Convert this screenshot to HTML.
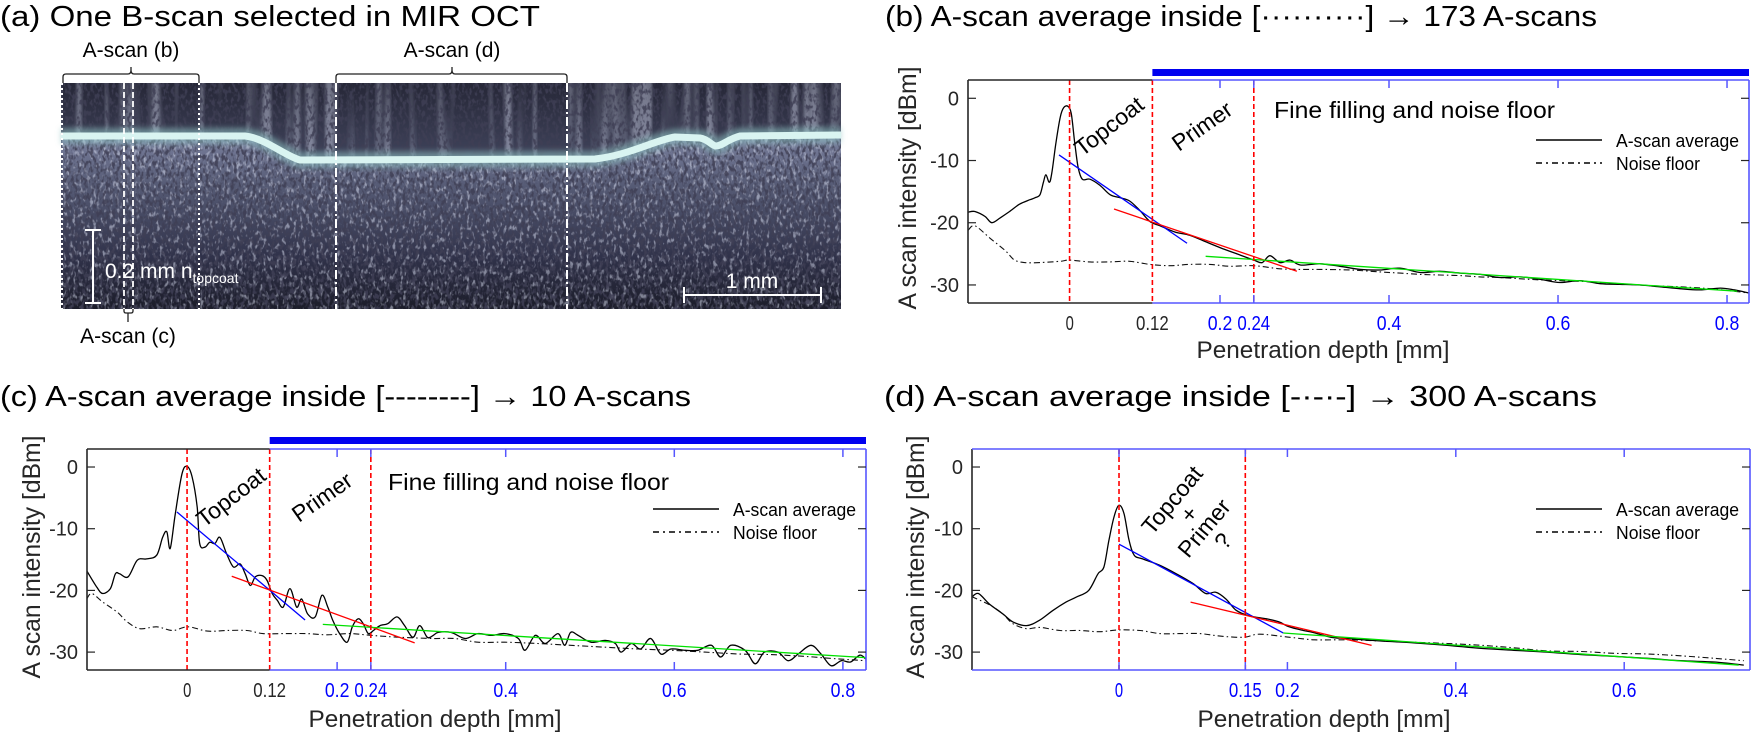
<!DOCTYPE html>
<html><head><meta charset="utf-8">
<style>
html,body{margin:0;padding:0;background:#fff;}
svg{display:block;font-family:"Liberation Sans",Arial,sans-serif;}
</style></head>
<body>
<svg id="fig" width="1752" height="734" viewBox="0 0 1752 734" xmlns="http://www.w3.org/2000/svg">
<defs>
  <linearGradient id="under" x1="0" y1="0" x2="0" y2="1">
    <stop offset="0" stop-color="#7a809e"/>
    <stop offset="0.3" stop-color="#555a74"/>
    <stop offset="0.7" stop-color="#30324a"/>
    <stop offset="1" stop-color="#1c1d2a"/>
  </linearGradient>
  <linearGradient id="above" x1="0" y1="0" x2="0" y2="1">
    <stop offset="0" stop-color="#262737"/>
    <stop offset="1" stop-color="#40445c"/>
  </linearGradient>
  <clipPath id="underClip">
    <path d="M61,136 L245,136 C265,138 285,156 300,160 L595,159 C630,155 655,140 675,137 L700,138 C708,139 712,146 716,146 C722,146 728,139 740,136 L841,135 L841,309 L61,309 Z"/>
  </clipPath>
  <clipPath id="aboveClip">
    <path d="M61,83 L841,83 L841,135 L740,136 C728,139 722,146 716,146 C712,146 708,139 700,138 L675,137 C655,140 630,155 595,159 L300,160 C285,156 265,138 245,136 L61,136 Z"/>
  </clipPath>
  <filter id="speckleDark" x="0" y="0" width="100%" height="100%">
    <feTurbulence type="fractalNoise" baseFrequency="0.32 0.18" numOctaves="2" seed="7"/>
    <feColorMatrix type="matrix" values="0 0 0 0 0.05  0 0 0 0 0.05  0 0 0 0 0.09  5 0 0 0 -2.3"/>
  </filter>
  <filter id="speckleLight" x="0" y="0" width="100%" height="100%">
    <feTurbulence type="fractalNoise" baseFrequency="0.3 0.16" numOctaves="2" seed="19"/>
    <feColorMatrix type="matrix" values="0 0 0 0 0.62  0 0 0 0 0.65  0 0 0 0 0.78  5 0 0 0 -2.6"/>
  </filter>
  <filter id="streaks" x="0" y="0" width="100%" height="100%">
    <feTurbulence type="fractalNoise" baseFrequency="0.12 0.004" numOctaves="1" seed="4"/>
    <feColorMatrix type="matrix" values="0 0 0 0 0.55  0 0 0 0 0.58  0 0 0 0 0.72  4 0 0 0 -1.9"/>
  </filter>
  <filter id="glow" x="-5%" y="-50%" width="110%" height="200%">
    <feGaussianBlur stdDeviation="3"/>
  </filter>
</defs>

<g>
  <text x="0" y="26" font-size="29" textLength="540" lengthAdjust="spacingAndGlyphs">(a) One B-scan selected in MIR OCT</text>
  <g>
    <rect x="61" y="83" width="780" height="226" fill="#191a25"/>
    <path d="M61,83 L841,83 L841,135 L740,136 C728,139 722,146 716,146 C712,146 708,139 700,138 L675,137 C655,140 630,155 595,159 L300,160 C285,156 265,138 245,136 L61,136 Z" fill="url(#above)"/>
    <path d="M61,136 L245,136 C265,138 285,156 300,160 L595,159 C630,155 655,140 675,137 L700,138 C708,139 712,146 716,146 C722,146 728,139 740,136 L841,135 L841,309 L61,309 Z" fill="url(#under)"/>
    <rect x="61" y="83" width="780" height="80" filter="url(#streaks)" opacity="0.5" clip-path="url(#aboveClip)"/>
    <rect x="61" y="130" width="780" height="179" filter="url(#speckleLight)" opacity="0.55" clip-path="url(#underClip)"/>
    <rect x="61" y="83" width="780" height="226" filter="url(#speckleDark)" opacity="0.85"/>
    <path d="M61,136 L245,136 C265,138 285,156 300,160 L595,159 C630,155 655,140 675,137 L700,138 C708,139 712,146 716,146 C722,146 728,139 740,136 L841,135" fill="none" stroke="#8fc4c4" stroke-width="16" opacity="0.55" filter="url(#glow)"/>
    <path d="M61,136 L245,136 C265,138 285,156 300,160 L595,159 C630,155 655,140 675,137 L700,138 C708,139 712,146 716,146 C722,146 728,139 740,136 L841,135" fill="none" stroke="#d9f4f1" stroke-width="7"/>
  </g>
  <line x1="62" y1="83" x2="62" y2="309" stroke="#fff" stroke-width="2" stroke-dasharray="2,3"/>
  <line x1="199" y1="83" x2="199" y2="309" stroke="#fff" stroke-width="2" stroke-dasharray="2,3"/>
  <line x1="124" y1="83" x2="124" y2="309" stroke="#fff" stroke-width="1.8" stroke-dasharray="6,3"/>
  <line x1="133" y1="83" x2="133" y2="309" stroke="#fff" stroke-width="1.8" stroke-dasharray="6,3"/>
  <line x1="336" y1="83" x2="336" y2="309" stroke="#fff" stroke-width="2" stroke-dasharray="9,3,2,3"/>
  <line x1="567" y1="83" x2="567" y2="309" stroke="#fff" stroke-width="2" stroke-dasharray="9,3,2,3"/>
  <path d="M63,83 L63,77 Q63,74 66,74 L128,74 Q131,74 131,70 L131,67 L131,70 Q131,74 134,74 L196,74 Q199,74 199,77 L199,83" fill="none" stroke="#222" stroke-width="1.3"/>
  <text x="131" y="57" font-size="21" text-anchor="middle">A-scan (b)</text>
  <path d="M336,83 L336,77 Q336,74 339,74 L449,74 Q452,74 452,70 L452,67 L452,70 Q452,74 455,74 L564,74 Q567,74 567,77 L567,83" fill="none" stroke="#222" stroke-width="1.3"/>
  <text x="452" y="57" font-size="21" text-anchor="middle">A-scan (d)</text>
  <path d="M124,309 L124,311 Q124,313 126,313 L128,313 L128,322 L128,313 L131,313 Q133,313 133,311 L133,309" fill="none" stroke="#222" stroke-width="1.3"/>
  <text x="128" y="343" font-size="21" text-anchor="middle">A-scan (c)</text>
  <g stroke="#fff" stroke-width="2">
    <line x1="93" y1="230" x2="93" y2="303"/><line x1="85" y1="230" x2="101" y2="230"/><line x1="85" y1="303" x2="101" y2="303"/>
  </g>
  <text x="105" y="278" font-size="21" fill="#fff">0.2 mm n<tspan font-size="14" dy="5">topcoat</tspan></text>
  <g stroke="#fff" stroke-width="2">
    <line x1="684" y1="295" x2="821" y2="295"/><line x1="684" y1="287" x2="684" y2="303"/><line x1="821" y1="287" x2="821" y2="303"/>
  </g>
  <text x="752" y="288" font-size="21" fill="#fff" text-anchor="middle">1 mm</text>
</g>

<text x="885" y="26" font-size="29" textLength="712" lengthAdjust="spacingAndGlyphs">(b) A-scan average inside [··········] → 173 A-scans</text>
<text x="0" y="406" font-size="29" textLength="691" lengthAdjust="spacingAndGlyphs">(c) A-scan average inside [--------] → 10 A-scans</text>
<text x="884" y="406" font-size="29" textLength="713" lengthAdjust="spacingAndGlyphs">(d) A-scan average inside [-·-·-] → 300 A-scans</text>
</svg>

<script>
// ---------- data (depth in mm, intensity in dBm) ----------
const yTicks = [0, -10, -20, -30];
const bcBlueTicks = [0.2, 0.24, 0.4, 0.6, 0.8];
const bcBlackTicks = [0, 0.12];
const dBlueTicks = [0, 0.15, 0.2, 0.4, 0.6];
const bcLayerDepths = [0.022, 0.12, 0.24];
const dLayerDepths = [0, 0.15];

const bDepth = [-0.098,-0.090,-0.078,-0.070,-0.060,-0.049,-0.037,-0.025,-0.019,-0.013,-0.009,-0.006,-0.002,0.001,0.006,0.011,0.015,0.020,0.024,0.028,0.032,0.037,0.046,0.058,0.070,0.082,0.093,0.105,0.117,0.129,0.147,0.164,0.182,0.200,0.224,0.240,0.250,0.259,0.271,0.283,0.295,0.318,0.342,0.366,0.389,0.413,0.437,0.460,0.484,0.508,0.531,0.555,0.579,0.602,0.626,0.650,0.673,0.697,0.721,0.744,0.768,0.792,0.809,0.826];
const bSignal = [-18.3,-18.2,-19,-20,-19.2,-18.2,-17.0,-16.3,-16,-15.5,-13.5,-12.3,-13.5,-12,-7,-3,-1.5,-1.3,-2.5,-7,-11,-13,-13,-14,-15.5,-16,-16.5,-18,-19.8,-20.5,-21.5,-22,-23,-24,-25.2,-26,-26.4,-25.3,-26.4,-26,-26.8,-26.6,-27.0,-27.5,-27.6,-27.3,-28,-27.8,-28.1,-28.3,-28.8,-28.7,-29.1,-29.6,-29.3,-29.8,-29.9,-30.0,-30.3,-30.6,-30.8,-30.5,-30.8,-31.3];
const bNoiseDepth = [-0.098,-0.090,-0.072,-0.054,-0.043,-0.031,-0.013,0.011,0.022,0.046,0.070,0.093,0.117,0.141,0.164,0.188,0.212,0.240,0.271,0.295,0.318,0.354,0.389,0.413,0.437,0.460,0.484,0.508,0.531,0.567,0.602,0.638,0.673,0.709,0.744,0.780,0.826];
const bNoise = [-21.2,-20.5,-22.5,-24.5,-26.0,-26.4,-26.4,-26.2,-26.0,-26.3,-26.3,-26.2,-26.7,-26.9,-26.7,-26.7,-27.0,-26.9,-27.4,-27.5,-27.5,-27.6,-27.9,-28.1,-28.3,-28.4,-28.5,-28.7,-28.8,-29.1,-29.3,-29.5,-29.8,-30.1,-30.3,-30.6,-31.3];
const bFitTopcoat = [[0.0095,-9.1],[0.161,-23.3]];
const bFitPrimer = [[0.0746,-17.8],[0.291,-27.8]];
const bFitFilling = [[0.183,-25.4],[0.812,-31.0]];

const cDepth = [-0.097,-0.085,-0.078,-0.069,-0.063,-0.058,-0.048,-0.037,-0.026,-0.014,-0.007,-0.002,0.002,0.008,0.016,0.022,0.028,0.034,0.037,0.043,0.049,0.055,0.061,0.069,0.077,0.085,0.091,0.097,0.103,0.111,0.117,0.123,0.129,0.136,0.144,0.152,0.158,0.165,0.174,0.182,0.189,0.195,0.203,0.212,0.218,0.225,0.231,0.237,0.243,0.251,0.260,0.271,0.280,0.290,0.298,0.307,0.314,0.320,0.335,0.352,0.367,0.383,0.399,0.415,0.423,0.435,0.447,0.462,0.470,0.477,0.486,0.501,0.518,0.530,0.537,0.549,0.560,0.572,0.584,0.596,0.613,0.628,0.644,0.655,0.667,0.684,0.696,0.707,0.723,0.735,0.747,0.762,0.774,0.786,0.798,0.809,0.820,0.827];
const cSignal = [-16.8,-19.5,-20.5,-19.7,-17.3,-17.3,-17.8,-15.1,-14.9,-14.3,-11.4,-10.5,-13.2,-7.6,-1.1,0.1,-1.6,-6.5,-12.4,-13,-12.2,-12.4,-11.4,-14.1,-16.2,-15.7,-17.3,-19.2,-17.8,-17.6,-18.4,-20.5,-21.6,-22.7,-19.7,-22.7,-21.4,-23.8,-24.3,-20.8,-22.7,-24.9,-27,-28.4,-25.9,-24.6,-25.4,-27,-26.5,-25.7,-25.4,-24.3,-25.7,-27.6,-25.7,-27.6,-27.3,-26.8,-26.8,-27.8,-27,-27.3,-27,-27.8,-29.7,-27.3,-28.6,-27,-28.9,-26.8,-27.3,-28.4,-28.1,-28.6,-30,-28.6,-29.5,-27.8,-30.3,-29.5,-29.7,-29.7,-28.9,-30.8,-28.9,-29.7,-31.9,-30,-30,-31.4,-30.3,-28.9,-30.3,-32.2,-31.4,-31.6,-30.5,-31.1];
const cNoiseDepth = [-0.097,-0.091,-0.078,-0.061,-0.049,-0.034,-0.014,0.005,0.023,0.046,0.069,0.093,0.112,0.136,0.164,0.188,0.215,0.241,0.275,0.314,0.340,0.367,0.399,0.438,0.477,0.518,0.557,0.596,0.636,0.676,0.715,0.755,0.794,0.827];
const cNoise = [-21.4,-20.5,-21.9,-23.5,-25.1,-26.2,-25.9,-26.5,-25.9,-26.6,-26.5,-26.5,-27,-27,-27,-27.2,-27,-27.3,-27.6,-27.8,-27.8,-28.4,-28.4,-28.6,-28.9,-29.2,-29.5,-29.7,-30,-30.3,-30.4,-30.7,-31.1,-31.4];
const cFitTopcoat = [[0.010,-7.3],[0.162,-24.8]];
const cFitPrimer = [[0.075,-17.7],[0.292,-28.5]];
const cFitFilling = [[0.183,-25.5],[0.827,-30.9]];

const dDepth = [-0.175,-0.167,-0.154,-0.138,-0.126,-0.110,-0.095,-0.078,-0.063,-0.051,-0.036,-0.025,-0.018,-0.012,-0.006,0.000,0.006,0.012,0.018,0.028,0.048,0.068,0.088,0.103,0.115,0.127,0.139,0.154,0.175,0.190,0.202,0.219,0.230,0.252,0.271,0.311,0.350,0.390,0.430,0.469,0.508,0.549,0.588,0.627,0.667,0.707,0.742];
const dSignal = [-21.1,-20.5,-22.2,-23.8,-25.1,-25.7,-24.9,-23.2,-21.9,-21.1,-20,-17.3,-16.2,-11.9,-8.1,-6.2,-7.6,-11.9,-14.3,-14.9,-15.9,-17.3,-18.9,-20.5,-20.3,-21.4,-23.2,-24.1,-24.6,-25.1,-25.9,-26.5,-26.8,-27.6,-27.8,-28.2,-28.5,-28.9,-29.4,-29.7,-30,-30.4,-30.7,-31,-31.4,-31.6,-32.1];
const dNoiseDepth = [-0.175,-0.153,-0.138,-0.126,-0.110,-0.094,-0.070,-0.046,-0.023,0,0.025,0.049,0.072,0.096,0.120,0.148,0.167,0.203,0.232,0.271,0.311,0.350,0.390,0.430,0.469,0.508,0.549,0.588,0.627,0.667,0.707,0.742];
const dNoise = [-21,-22.4,-23.8,-25.4,-26.2,-26.0,-26.5,-26.5,-26.7,-26.4,-26.5,-27,-27,-27,-27.4,-27.6,-27.1,-27.6,-28,-28,-28.2,-28.4,-28.6,-28.9,-29.3,-29.8,-29.9,-30.2,-30.3,-30.6,-31.0,-31.4];
const dFitTopcoat = [[0.000,-12.5],[0.195,-26.9]];
const dFitPrimer = [[0.085,-21.9],[0.300,-28.9]];
const dFitFilling = [[0.195,-26.9],[0.736,-32.1]];

// ---------- drawing ----------
const NS = "http://www.w3.org/2000/svg";
const svg = document.getElementById("fig");
const GRAY = "#262626", BLUEAX = "#5656ff";

function mk(tag, attrs, parent) {
  const e = document.createElementNS(NS, tag);
  for (const k in attrs) e.setAttribute(k, attrs[k]);
  (parent || svg).appendChild(e);
  return e;
}
function blackToBlue(t) { return 0.12 - (0.12 - t) * 0.815; }
function smooth(pts) {
  let d = "M" + pts[0][0].toFixed(1) + "," + pts[0][1].toFixed(1);
  for (let i = 0; i < pts.length - 1; i++) {
    const p0 = pts[i - 1] || pts[i], p1 = pts[i], p2 = pts[i + 1], p3 = pts[i + 2] || p2;
    const c1 = [p1[0] + (p2[0] - p0[0]) / 6, p1[1] + (p2[1] - p0[1]) / 6];
    const c2 = [p2[0] - (p3[0] - p1[0]) / 6, p2[1] - (p3[1] - p1[1]) / 6];
    d += " C" + c1[0].toFixed(1) + "," + c1[1].toFixed(1) + " " + c2[0].toFixed(1) + "," + c2[1].toFixed(1) + " " + p2[0].toFixed(1) + "," + p2[1].toFixed(1);
  }
  return d;
}

function drawPanel(name, c, depth, signal, nDepth, noise, fits, blueTicks, blackTicks, layers) {
  const g = mk("g", {});
  
  
  const X = v => c.L + (v - c.xmin) / (c.xmax - c.xmin) * (c.R - c.L);
  const Y = v => c.T + (c.ymax - v) / (c.ymax - c.ymin) * (c.B - c.T);
  const bx = c.blueFrom === null ? c.L : X(c.blueFrom);

  if (c.bar) {
    const bar = mk("rect", {x: bx, y: c.barY, width: c.R - bx, height: 7, fill: "#0000f0"}, g);
    
    
  }
  const cp = mk("clipPath", {id: name + "-clip"}, g);
  mk("rect", {x: c.L, y: c.T, width: c.R - c.L, height: c.B - c.T}, cp);
  const dg = mk("g", {"clip-path": "url(#" + name + "-clip)"}, g);

  const np = mk("path", {d: smooth(nDepth.map((v, i) => [X(v), Y(noise[i])])), fill: "none", stroke: "#111", "stroke-width": 1.1, "stroke-dasharray": "6,3,1.5,3"}, dg);
  
  
  const sp = mk("path", {d: smooth(depth.map((v, i) => [X(v), Y(signal[i])])), fill: "none", stroke: "#000", "stroke-width": 1.3}, dg);
  
  
  const fitCols = ["#0000ff", "#ff0000", "#00e000"];
  const fitNames = ["topcoat-fit-line", "primer-fit-line", "filling-fit-line"];
  fits.forEach((f, i) => {
    const fl = mk("line", {x1: X(f[0][0]), y1: Y(f[0][1]), x2: X(f[1][0]), y2: Y(f[1][1]), stroke: fitCols[i], "stroke-width": 1.3}, dg);
    
    
  });
  layers.forEach(v => {
    const rl = mk("line", {x1: X(v), y1: c.T, x2: X(v), y2: c.B, stroke: "#ff0000", "stroke-width": 1.6, "stroke-dasharray": "5,3"}, g);
    
    
  });

  const ax = mk("g", {"stroke-width": 1.6, fill: "none"}, g);
  
  
  mk("line", {x1: c.L, y1: c.T, x2: c.L, y2: c.B, stroke: GRAY}, ax);
  if (bx > c.L) {
    mk("line", {x1: c.L, y1: c.T, x2: bx, y2: c.T, stroke: GRAY}, ax);
    mk("line", {x1: c.L, y1: c.B, x2: bx, y2: c.B, stroke: GRAY}, ax);
  }
  mk("line", {x1: bx, y1: c.T, x2: c.R, y2: c.T, stroke: BLUEAX}, ax);
  mk("line", {x1: bx, y1: c.B, x2: c.R, y2: c.B, stroke: BLUEAX}, ax);
  mk("line", {x1: c.R, y1: c.T, x2: c.R, y2: c.B, stroke: BLUEAX}, ax);

  yTicks.forEach(v => {
    const y = Y(v);
    mk("line", {x1: c.L, y1: y, x2: c.L + 8, y2: y, stroke: GRAY, "stroke-width": 1.2}, g);
    mk("line", {x1: c.R, y1: y, x2: c.R - 8, y2: y, stroke: GRAY, "stroke-width": 1.2}, g);
    const t = mk("text", {x: c.L - 9, y: y + 7, "font-size": 20, "text-anchor": "end", fill: GRAY}, g);
    t.textContent = String(v);
    
    
  });
  blueTicks.forEach(v => {
    const x = X(v);
    mk("line", {x1: x, y1: c.B, x2: x, y2: c.B - 8, stroke: BLUEAX, "stroke-width": 1.5}, g);
    mk("line", {x1: x, y1: c.T, x2: x, y2: c.T + 8, stroke: BLUEAX, "stroke-width": 1.5}, g);
    const s = String(v);
    const t = mk("text", {x: x, y: c.tickY, "font-size": 20, "text-anchor": "middle", fill: "#0000ff", textLength: s.length * 8.2, lengthAdjust: "spacingAndGlyphs"}, g);
    t.textContent = s;
    
    
  });
  blackTicks.forEach(v => {
    const s = String(v);
    const t = mk("text", {x: X(blackToBlue(v)), y: c.tickY, "font-size": 20, "text-anchor": "middle", fill: GRAY, textLength: s.length * 8.2, lengthAdjust: "spacingAndGlyphs"}, g);
    t.textContent = s;
    
    
  });

  const xt = mk("text", {x: c.xlab[0], y: c.xlab[1], "font-size": 24, "text-anchor": "middle", fill: GRAY, textLength: 253, lengthAdjust: "spacingAndGlyphs"}, g);
  xt.textContent = "Penetration depth [mm]";
  
  
  const yt = mk("text", {x: 0, y: 0, "font-size": 25, "text-anchor": "middle", fill: GRAY, textLength: 243, lengthAdjust: "spacingAndGlyphs", transform: "translate(" + c.ylab[0] + "," + c.ylab[1] + ") rotate(-90)"}, g);
  yt.textContent = "A scan intensity [dBm]";
  
  

  const lg = mk("g", {}, g);
  
  
  const lx = c.leg[0], ly = c.leg[1];
  mk("line", {x1: lx, y1: ly, x2: lx + 66, y2: ly, stroke: "#000", "stroke-width": 1.6}, lg);
  const l1 = mk("text", {x: lx + 80, y: ly + 7, "font-size": 18, textLength: 123, lengthAdjust: "spacingAndGlyphs"}, lg);
  l1.textContent = "A-scan average";
  
  
  mk("line", {x1: lx, y1: ly + 23, x2: lx + 66, y2: ly + 23, stroke: "#000", "stroke-width": 1.6, "stroke-dasharray": "6,4,2,4"}, lg);
  const l2 = mk("text", {x: lx + 80, y: ly + 30, "font-size": 18, textLength: 84, lengthAdjust: "spacingAndGlyphs"}, lg);
  l2.textContent = "Noise floor";
  
  

  c.notes.forEach(n => {
    const t = mk("text", {x: 0, y: 0, "font-size": 23, "text-anchor": "middle", "dominant-baseline": "central", transform: "translate(" + n[1] + "," + n[2] + ") rotate(" + n[3] + ")"}, g);
    t.textContent = n[0];
    
    
  });
  if (c.fine) {
    const t = mk("text", {x: c.fine[0], y: c.fine[1], "font-size": 23, textLength: 281, lengthAdjust: "spacingAndGlyphs"}, g);
    t.textContent = "Fine filling and noise floor";
    
    
  }
}

drawPanel("panel-b",
  {L: 968, R: 1749, T: 80, B: 303, xmin: -0.0982, xmax: 0.826, ymin: -32.9, ymax: 2.94, blueFrom: 0.12, bar: true, barY: 69,
   tickY: 330, xlab: [1323, 358], ylab: [916, 188], leg: [1536, 140], fine: [1274, 118],
   notes: [["Topcoat", 1109, 126, -38], ["Primer", 1202, 126, -35]]},
  bDepth, bSignal, bNoiseDepth, bNoise, [bFitTopcoat, bFitPrimer, bFitFilling], bcBlueTicks, bcBlackTicks, bcLayerDepths);

drawPanel("panel-c",
  {L: 87, R: 866, T: 449, B: 670, xmin: -0.0967, xmax: 0.8274, ymin: -32.9, ymax: 2.92, blueFrom: 0.12, bar: true, barY: 437,
   tickY: 697, xlab: [435, 727], ylab: [40, 557], leg: [653, 509], fine: [388, 490],
   notes: [["Topcoat", 231, 497, -38], ["Primer", 322, 497, -35]]},
  cDepth, cSignal, cNoiseDepth, cNoise, [cFitTopcoat, cFitPrimer, cFitFilling], bcBlueTicks, bcBlackTicks, bcLayerDepths);

drawPanel("panel-d",
  {L: 972, R: 1750, T: 449, B: 670, xmin: -0.1746, xmax: 0.7494, ymin: -32.9, ymax: 2.92, blueFrom: null, bar: false,
   tickY: 697, xlab: [1324, 727], ylab: [924, 557], leg: [1536, 509], fine: null,
   notes: [["Topcoat", 1172, 500, -50], ["+", 1189, 514, -50], ["Primer", 1204, 528, -50], ["?", 1223, 541, -50]]},
  dDepth, dSignal, dNoiseDepth, dNoise, [dFitTopcoat, dFitPrimer, dFitFilling], dBlueTicks, [], dLayerDepths);
</script>
</body></html>
